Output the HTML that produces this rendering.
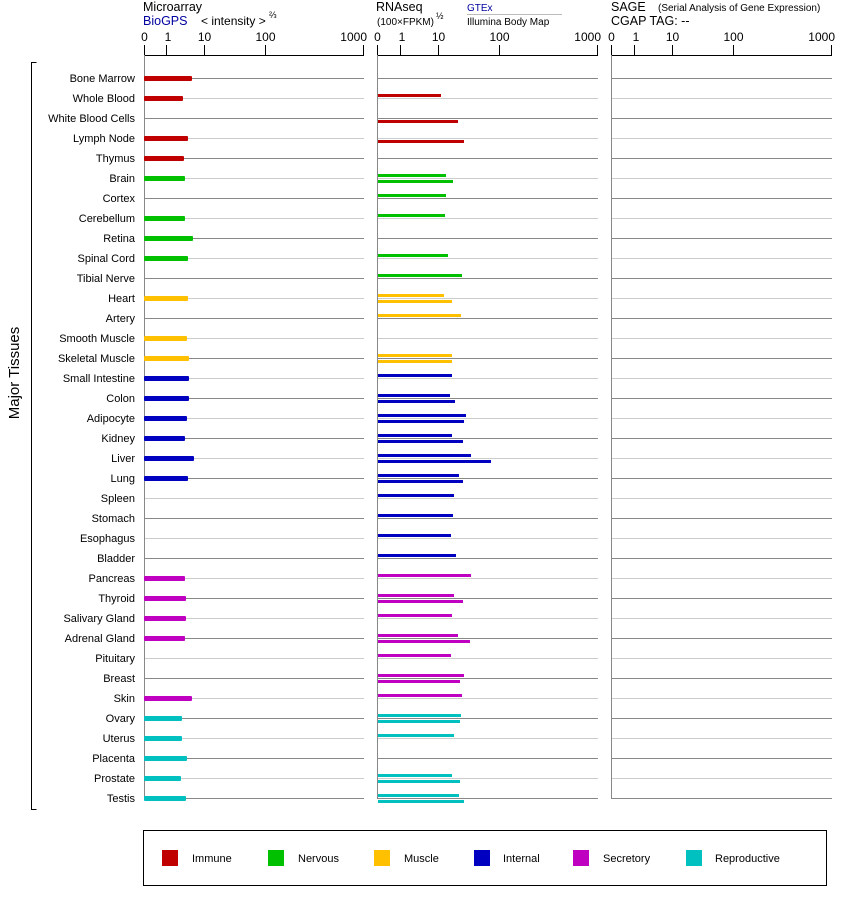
<!DOCTYPE html>
<html><head><meta charset="utf-8"><style>
html,body{margin:0;padding:0;background:#fff;}
svg{display:block;font-family:"Liberation Sans",Arial,sans-serif;}
</style></head><body>
<svg id="s" width="842" height="900" xmlns="http://www.w3.org/2000/svg">
<g font-size="12.5" fill="#000">
<text x="143" y="11">Microarray</text>
<text x="143" y="25" fill="#0000a0">BioGPS</text>
<text x="201" y="25" font-size="12">&lt; intensity &gt;</text>
<text x="269" y="18" font-size="9">⅔</text>
<text x="376" y="11">RNAseq</text>
<text x="377" y="25" font-size="10">(100×FPKM)</text>
<text x="436" y="19" font-size="9">½</text>
<text x="467" y="11" font-size="10" fill="#0000a0">GTEx</text>
<line x1="467" y1="14.5" x2="562" y2="14.5" stroke="#bbb"/>
<text x="467" y="25" font-size="10">Illumina Body Map</text>
<text x="611" y="11">SAGE</text>
<text x="658" y="11" font-size="10">(Serial Analysis of Gene Expression)</text>
<text x="611" y="25">CGAP TAG:  --</text>
</g>
<g id="g"></g>
<text transform="translate(19,373) rotate(-90)" text-anchor="middle" font-size="15">Major Tissues</text>
<path d="M36.5,62.5 H31.5 V809.5 H36.5" fill="none" stroke="#000"/>
<rect x="143.5" y="830.5" width="683" height="55" fill="none" stroke="#000"/>
<g font-size="11">
<rect x="162" y="850" width="16" height="16" fill="#c00000"/><text x="192" y="862">Immune</text>
<rect x="268" y="850" width="16" height="16" fill="#00c000"/><text x="298" y="862">Nervous</text>
<rect x="374" y="850" width="16" height="16" fill="#ffc000"/><text x="404" y="862">Muscle</text>
<rect x="474" y="850" width="16" height="16" fill="#0000c0"/><text x="503" y="862">Internal</text>
<rect x="573" y="850" width="16" height="16" fill="#c000c0"/><text x="603" y="862">Secretory</text>
<rect x="686" y="850" width="16" height="16" fill="#00c0c0"/><text x="715" y="862">Reproductive</text>
</g>
</svg>
<script>
const C={I:"#c00000",N:"#00c000",M:"#ffc000",T:"#0000c0",S:"#c000c0",R:"#00c0c0"};
const rows=[
["Bone Marrow","I",192,[0,0]],["Whole Blood","I",183,[441,0]],["White Blood Cells","I",0,[0,458]],
["Lymph Node","I",188,[0,464]],["Thymus","I",184,[0,0]],["Brain","N",185,[446,453]],
["Cortex","N",0,[446,0]],["Cerebellum","N",185,[445,0]],["Retina","N",193,[0,0]],
["Spinal Cord","N",188,[448,0]],["Tibial Nerve","N",0,[462,0]],["Heart","M",188,[444,452]],
["Artery","M",0,[461,0]],["Smooth Muscle","M",187,[0,0]],["Skeletal Muscle","M",189,[452,452]],
["Small Intestine","T",189,[452,0]],["Colon","T",189,[450,455]],["Adipocyte","T",187,[466,464]],
["Kidney","T",185,[452,463]],["Liver","T",194,[471,491]],["Lung","T",188,[459,463]],
["Spleen","T",0,[454,0]],["Stomach","T",0,[453,0]],["Esophagus","T",0,[451,0]],
["Bladder","T",0,[456,0]],["Pancreas","S",185,[471,0]],["Thyroid","S",186,[454,463]],
["Salivary Gland","S",186,[452,0]],["Adrenal Gland","S",185,[458,470]],["Pituitary","S",0,[451,0]],
["Breast","S",0,[464,460]],["Skin","S",192,[462,0]],["Ovary","R",182,[461,460]],
["Uterus","R",182,[454,0]],["Placenta","R",187,[0,0]],["Prostate","R",181,[452,460]],["Testis","R",186,[459,464]]];
let h="";
const panels=[[144,364,[[144,"0"],[166,"1"],[204,"10"],[265,"100"],[363,"1000"]]],[377,598,[[377,"0"],[400,"1"],[438,"10"],[499,"100"],[597,"1000"]]],[611,832,[[611,"0"],[634,"1"],[672,"10"],[733,"100"],[831,"1000"]]]];
panels.forEach(p=>{
 h+=`<line x1="${p[0]}" y1="55.5" x2="${p[1]-0.5}" y2="55.5" stroke="#000"/>`;
 p[2].forEach(t=>{
  h+=`<line x1="${t[0]+.5}" y1="45" x2="${t[0]+.5}" y2="56" stroke="#000"/>`;
  if(t[1]=="1000") h+=`<text x="${t[0]+4}" y="41" text-anchor="end" font-size="12">${t[1]}</text>`;
  else h+=`<text x="${t[0]+(t[1]=="1"?2:0.5)}" y="41" text-anchor="middle" font-size="12">${t[1]}</text>`;
 });
 h+=`<line x1="${p[0]+.5}" y1="55" x2="${p[0]+.5}" y2="799" stroke="#888"/>`;
});
rows.forEach((r,i)=>{
 const y=78+20*i, col=i%2?"#ccc":"#888";
 h+=`<text x="135" y="${y+4}" text-anchor="end" font-size="11">${r[0]}</text>`;
 panels.forEach(p=>{h+=`<line x1="${p[0]+1}" y1="${y+.5}" x2="${p[1]}" y2="${y+.5}" stroke="${col}"/>`;});
 if(r[2]) h+=`<rect x="144" y="${y-2}" width="${r[2]-144}" height="5" rx="1" fill="${C[r[1]]}"/>`;
 if(r[3][0]) h+=`<rect x="378" y="${y-4}" width="${r[3][0]-378}" height="3" fill="${C[r[1]]}"/>`;
 if(r[3][1]) h+=`<rect x="378" y="${y+2}" width="${r[3][1]-378}" height="3" fill="${C[r[1]]}"/>`;
});
document.getElementById("g").innerHTML=h;
</script>
</body></html>
